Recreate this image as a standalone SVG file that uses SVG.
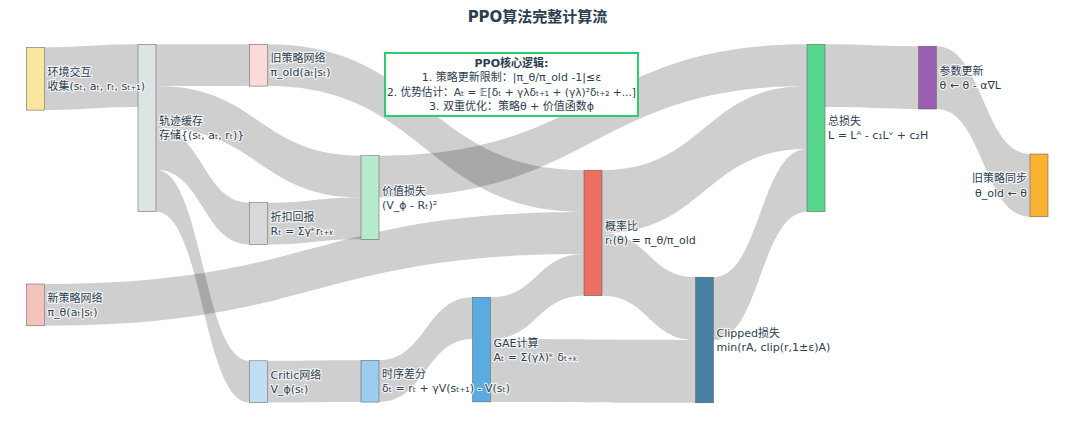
<svg xmlns="http://www.w3.org/2000/svg" width="1076" height="447" viewBox="0 0 1076 447">
<style>
.link{fill:rgba(0,0,0,0.19);stroke:none}
.node{stroke:#555;stroke-width:0.5}
.lbl{font-family:"DejaVu Sans","Noto Sans CJK SC",sans-serif;font-size:11px;fill:#2c3e50;stroke:#fff;stroke-width:2.4px;stroke-opacity:0.75;stroke-linejoin:round;paint-order:stroke}
.ttl{font-family:"DejaVu Sans","Noto Sans CJK SC",sans-serif;font-size:15px;font-weight:bold;fill:#2c3e50}
.box{fill:#fff;stroke:#2ecc71;stroke-width:2}
.btxt{font-family:"DejaVu Sans","Noto Sans CJK SC",sans-serif;font-size:11px;fill:#2c3e50;text-anchor:middle}
</style>
<rect width="1076" height="447" fill="#fff"/>
<text class="ttl" x="537.5" y="21.5" text-anchor="middle">PPO算法完整计算流</text>
<g id="links">
<path class="link" d="M44.5,47.3 C91.25,47.3 91.25,44.3 138,44.3 L138,107.1 C91.25,107.1 91.25,110.1 44.5,110.1 Z"/>
<path class="link" d="M156,44.3 C202.75,44.3 202.75,44.3 249.5,44.3 L249.5,86.1 C202.75,86.1 202.75,86.1 156,86.1 Z"/>
<path class="link" d="M156,86.1 C258.5,86.1 258.5,155.7 361,155.7 L361,197.5 C258.5,197.5 258.5,128 156,128 Z"/>
<path class="link" d="M156,128 C202.75,128 202.75,202.7 249.5,202.7 L249.5,244.5 C202.75,244.5 202.75,169.8 156,169.8 Z"/>
<path class="link" d="M156,169.8 C202.75,169.8 202.75,360.8 249.5,360.8 L249.5,402.6 C202.75,402.6 202.75,211.7 156,211.7 Z"/>
<path class="link" d="M267.5,44.3 C425.75,44.3 425.75,170.2 584,170.2 L584,212 C425.75,212 425.75,86.1 267.5,86.1 Z"/>
<path class="link" d="M267.5,202.7 C314.25,202.7 314.25,197.5 361,197.5 L361,239.3 C314.25,239.3 314.25,244.5 267.5,244.5 Z"/>
<path class="link" d="M267.5,360.8 C314.25,360.8 314.25,360.3 361,360.3 L361,402.1 C314.25,402.1 314.25,402.6 267.5,402.6 Z"/>
<path class="link" d="M44.5,284 C314.25,284 314.25,212 584,212 L584,253.9 C314.25,253.9 314.25,325.8 44.5,325.8 Z"/>
<path class="link" d="M379,155.7 C593,155.7 593,44.3 807,44.3 L807,86.1 C593,86.1 593,197.5 379,197.5 Z"/>
<path class="link" d="M379,360.3 C425.75,360.3 425.75,297.3 472.5,297.3 L472.5,339.1 C425.75,339.1 425.75,402.1 379,402.1 Z"/>
<path class="link" d="M490.5,297.3 C537.25,297.3 537.25,253.9 584,253.9 L584,295.7 C537.25,295.7 537.25,339.1 490.5,339.1 Z"/>
<path class="link" d="M490.5,339.1 C593,339.1 593,340 695.5,340 L695.5,402.8 C593,402.8 593,401.9 490.5,401.9 Z"/>
<path class="link" d="M602,170.2 C704.5,170.2 704.5,86.1 807,86.1 L807,148.9 C704.5,148.9 704.5,233 602,233 Z"/>
<path class="link" d="M602,233 C648.75,233 648.75,277.2 695.5,277.2 L695.5,340 C648.75,340 648.75,295.7 602,295.7 Z"/>
<path class="link" d="M713.5,277.2 C760.25,277.2 760.25,148.9 807,148.9 L807,211.7 C760.25,211.7 760.25,340 713.5,340 Z"/>
<path class="link" d="M825,44.3 C871.75,44.3 871.75,46.2 918.5,46.2 L918.5,109 C871.75,109 871.75,107.1 825,107.1 Z"/>
<path class="link" d="M936.5,46.2 C983.25,46.2 983.25,154 1030,154 L1030,216.8 C983.25,216.8 983.25,109 936.5,109 Z"/>
</g>
<g id="n-env"><rect class="node" x="26.5" y="47.3" width="18" height="62.8" fill="#f9e79f"/></g>
<g id="n-buffer"><rect class="node" x="138" y="44.3" width="18" height="167.4" fill="#dce3e3"/></g>
<g id="n-old"><rect class="node" x="249.5" y="44.3" width="18" height="41.8" fill="#fadbd8"/></g>
<g id="n-return"><rect class="node" x="249.5" y="202.7" width="18" height="41.8" fill="#d9d9db"/></g>
<g id="n-critic"><rect class="node" x="249.5" y="360.8" width="18" height="41.8" fill="#bfe0f4"/></g>
<g id="n-new"><rect class="node" x="26.5" y="284" width="18" height="41.8" fill="#f5c3be"/></g>
<g id="n-vloss"><rect class="node" x="361" y="155.7" width="18" height="83.6" fill="#b6eccd"/></g>
<g id="n-td"><rect class="node" x="361" y="360.3" width="18" height="41.8" fill="#9dcdee"/></g>
<g id="n-gae"><rect class="node" x="472.5" y="297.3" width="18" height="104.6" fill="#5aabe0"/></g>
<g id="n-ratio"><rect class="node" x="584" y="170.2" width="18" height="125.5" fill="#ec6f62"/></g>
<g id="n-clip"><rect class="node" x="695.5" y="277.2" width="18" height="125.6" fill="#4a80a2"/></g>
<g id="n-total"><rect class="node" x="807" y="44.3" width="18" height="167.4" fill="#58d68d"/></g>
<g id="n-update"><rect class="node" x="918.5" y="46.2" width="18" height="62.8" fill="#9a5fb0"/></g>
<g id="n-sync"><rect class="node" x="1030" y="154" width="18" height="62.8" fill="#fab232"/></g>
<g id="labels">
<text class="lbl" x="47.5" y="75.7">环境交互</text>
<text class="lbl" x="47.5" y="90">收集(sₜ, aₜ, rₜ, sₜ₊₁)</text>
<text class="lbl" x="159" y="125">轨迹缓存</text>
<text class="lbl" x="159" y="139.3">存储{(sₜ, aₜ, rₜ)}</text>
<text class="lbl" x="270.5" y="62">旧策略网络</text>
<text class="lbl" x="270.5" y="76.3">π_old(aₜ|sₜ)</text>
<text class="lbl" x="270.5" y="220.6">折扣回报</text>
<text class="lbl" x="270.5" y="234.9">Rₜ = Σγᵏrₜ₊ₖ</text>
<text class="lbl" x="270.5" y="378.7">Critic网络</text>
<text class="lbl" x="270.5" y="393">V_ϕ(sₜ)</text>
<text class="lbl" x="47.5" y="302">新策略网络</text>
<text class="lbl" x="47.5" y="316.3">π_θ(aₜ|sₜ)</text>
<text class="lbl" x="382" y="194.5">价值损失</text>
<text class="lbl" x="382" y="208.8">(V_ϕ - Rₜ)²</text>
<text class="lbl" x="382" y="378">时序差分</text>
<text class="lbl" x="382" y="392.3">δₜ = rₜ + γV(sₜ₊₁) - V(sₜ)</text>
<text class="lbl" x="493.5" y="346.6">GAE计算</text>
<text class="lbl" x="493.5" y="360.9">Aₜ = Σ(γλ)ᵏ δₜ₊ₖ</text>
<text class="lbl" x="605" y="230">概率比</text>
<text class="lbl" x="605" y="244.3">rₜ(θ) = π_θ/π_old</text>
<text class="lbl" x="716.5" y="337">Clipped损失</text>
<text class="lbl" x="716.5" y="351.3">min(rA, clip(r,1±ε)A)</text>
<text class="lbl" x="828" y="125">总损失</text>
<text class="lbl" x="828" y="139.3">L = Lᴬ - c₁Lᵛ + c₂H</text>
<text class="lbl" x="939.5" y="74.6">参数更新</text>
<text class="lbl" x="939.5" y="88.9">θ ← θ - α∇L</text>
<text class="lbl" x="1027" y="182.4" text-anchor="end">旧策略同步</text>
<text class="lbl" x="1027" y="196.7" text-anchor="end">θ_old ← θ</text>
</g>
<g id="logic-box">
<rect class="box" x="385" y="53" width="253" height="63"/>
<text class="btxt" x="511.5" y="67.3" font-weight="bold">PPO核心逻辑:</text>
<text class="btxt" x="511.5" y="81.3">1. 策略更新限制：|π_θ/π_old -1|≤ε</text>
<text class="btxt" x="511.5" y="96.3" textLength="249" lengthAdjust="spacingAndGlyphs">2. 优势估计：Aₜ = 𝔼[δₜ + γλδₜ₊₁ + (γλ)²δₜ₊₂ +...]</text>
<text class="btxt" x="511.5" y="110.3">3. 双重优化：策略θ + 价值函数ϕ</text>
</g>
</svg>
